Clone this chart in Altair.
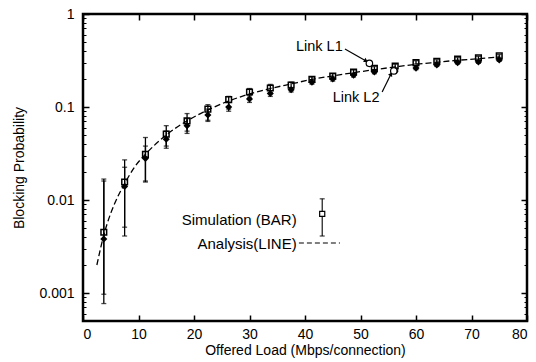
import altair as alt
import pandas as pd

# ---- data ----
load = [3.75, 7.5, 11.25, 15, 18.75, 22.5, 26.25, 30, 33.75, 37.5,
        41.25, 45, 48.75, 52.5, 56.25, 60, 63.75, 67.5, 71.25, 75]
sim_l1 = [0.0045, 0.0156, 0.031, 0.051, 0.071, 0.095, 0.12, 0.145, 0.16, 0.172,
          0.198, 0.215, 0.238, 0.26, 0.276, 0.3, 0.31, 0.328, 0.337, 0.354]
sim_l2 = [0.0038, 0.014, 0.028, 0.045, 0.063, 0.082, 0.1, 0.122, 0.14, 0.153,
          0.185, 0.2, 0.22, 0.238, 0.244, 0.262, 0.283, 0.3, 0.305, 0.32]
l1_lo = [0.00077, 0.0041, 0.0156, 0.036, 0.052, 0.07, 0.095, 0.125, 0.142, 0.158,
         0.185, 0.2, 0.225, 0.25, 0.265, 0.29, 0.3, 0.318, 0.326, 0.342]
l1_hi = [0.0168, 0.027, 0.047, 0.063, 0.085, 0.106, 0.13, 0.158, 0.175, 0.185,
         0.21, 0.228, 0.25, 0.272, 0.288, 0.315, 0.322, 0.34, 0.35, 0.366]
l2_lo = [0.00097, 0.0051, 0.016, 0.038, 0.055, 0.072, 0.09, 0.112, 0.13, 0.145,
         0.176, 0.19, 0.21, 0.228, 0.235, 0.252, 0.273, 0.29, 0.295, 0.31]
l2_hi = [0.016, 0.0225, 0.038, 0.055, 0.075, 0.095, 0.112, 0.132, 0.15, 0.162,
         0.195, 0.21, 0.23, 0.248, 0.254, 0.272, 0.293, 0.31, 0.315, 0.33]

ana_x = [2.5, 3.75, 5, 6.25, 7.5, 9.375, 11.25, 15, 18.75, 22.5, 26.25, 30, 33.75,
         37.5, 41.25, 45, 48.75, 52.5, 56.25, 60, 63.75, 67.5, 71.25, 75]
ana_y = [0.002, 0.0042, 0.0072, 0.0108, 0.015, 0.023, 0.031, 0.05, 0.071, 0.093,
         0.116, 0.138, 0.158, 0.177, 0.198, 0.216, 0.234, 0.252, 0.27, 0.288,
         0.303, 0.318, 0.33, 0.345]

x_ticks = [0, 10, 20, 30, 40, 50, 60, 70, 80]
y_major = [0.001, 0.01, 0.1, 1]
y_minor = [0.0005, 0.0006, 0.0007, 0.0008, 0.0009,
           0.002, 0.003, 0.004, 0.005, 0.006, 0.007, 0.008, 0.009,
           0.02, 0.03, 0.04, 0.05, 0.06, 0.07, 0.08, 0.09,
           0.2, 0.3, 0.4, 0.5, 0.6, 0.7, 0.8, 0.9]

# annotations (data coordinates)
ann_text = ["Link L1", "Link L2"]
ann_tx = [46.8, 49.2]
ann_ty = [0.44, 0.125]
arrow_x1 = [47.2, 53.9]
arrow_y1 = [0.42, 0.145]
arrow_x2 = [51.0, 55.5]
arrow_y2 = [0.313, 0.226]
arrow_angle = [120, 27]
circ_x = [51.6, 56.0]
circ_y = [0.295, 0.244]

legend_text = ["Simulation (BAR)", "Analysis(LINE)"]
legend_tx = [38.5, 38.5]
legend_ty = [0.0061, 0.00336]
leg_bar_x = [43.1]
leg_bar_y = [0.0071]
leg_bar_lo = [0.0041]
leg_bar_hi = [0.0103]
leg_line_x = [38.9, 46.3]
leg_line_y = [0.00345, 0.00345]

FONT = "Liberation Sans"
XD = [0, 80]
YD = [0.0005, 1]

sim = pd.DataFrame({"load": load, "l1": sim_l1, "l2": sim_l2,
                    "l1lo": l1_lo, "l1hi": l1_hi, "l2lo": l2_lo, "l2hi": l2_hi})
ana = pd.DataFrame({"x": ana_x, "y": ana_y})


def xs(field, axis=None):
    return alt.X(field, type="quantitative", scale=alt.Scale(domain=XD, nice=False, zero=False),
                 axis=axis)


def ys(field, axis=None):
    return alt.Y(field, type="quantitative", scale=alt.Scale(type="log", domain=YD, nice=False),
                 axis=axis)


ax_bottom = alt.Axis(values=x_ticks, orient="bottom", offset=-6, tickSize=6, domain=False,
                     grid=False, labelPadding=6, labelFontSize=14, labelFont=FONT,
                     labelColor="black", tickColor="black", tickWidth=1.5,
                     title="Offered Load (Mbps/connection)",
                     titleFont=FONT, titleFontSize=14, titleFontWeight="normal",
                     titleColor="black", titlePadding=2)
ax_top = alt.Axis(values=x_ticks, orient="top", offset=-6, tickSize=6, domain=False,
                  grid=False, labels=False, tickColor="black", tickWidth=1.5, title=None)
ax_left = alt.Axis(values=y_major, orient="left", offset=-6, tickSize=6, domain=False,
                   grid=False, format="~g", labelPadding=9, labelFontSize=14, labelFont=FONT,
                   labelColor="black", tickColor="black", tickWidth=1.5,
                   title="Blocking Probability",
                   titleFont=FONT, titleFontSize=14, titleFontWeight="normal",
                   titleColor="black", titlePadding=12)
ax_left_minor = alt.Axis(values=y_minor, orient="left", offset=-3, tickSize=3, domain=False,
                         grid=False, labels=False, tickColor="black", title=None)
ax_right = alt.Axis(values=y_major, orient="right", offset=-6, tickSize=6, domain=False,
                    grid=False, labels=False, tickColor="black", tickWidth=1.5, title=None)
ax_right_minor = alt.Axis(values=y_minor, orient="right", offset=-3, tickSize=3, domain=False,
                          grid=False, labels=False, tickColor="black", title=None)

base = alt.Chart(sim)

# error bars
err1 = base.mark_rule(color="black", strokeWidth=1.3).encode(
    x=xs("load", ax_bottom), y=ys("l1lo", ax_left), y2="l1hi")
err2 = base.mark_rule(color="black", strokeWidth=1.3).encode(
    x=xs("load", ax_top), y=ys("l2lo", ax_left_minor), y2="l2hi")
cap_common = dict(color="black", orient="horizontal", size=5, thickness=1.3)
cap1 = base.mark_tick(**cap_common).encode(x=xs("load"), y=ys("l1lo", ax_right))
cap2 = base.mark_tick(**cap_common).encode(x=xs("load"), y=ys("l1hi", ax_right_minor))
cap3 = base.mark_tick(**cap_common).encode(x=xs("load"), y=ys("l2lo"))
cap4 = base.mark_tick(**cap_common).encode(x=xs("load"), y=ys("l2hi"))

pts2 = base.mark_point(shape="diamond", filled=True, color="black", size=50, opacity=1).encode(
    x=xs("load"), y=ys("l2"))
pts1 = base.mark_point(shape="square", filled=False, color="black", size=32, strokeWidth=1.5,
                       opacity=1).encode(x=xs("load"), y=ys("l1"))

line = alt.Chart(ana).mark_line(color="black", strokeWidth=1.3, strokeDash=[6, 3],
                                interpolate="monotone").encode(x=xs("x"), y=ys("y"))

# annotations
ann = pd.DataFrame({"t": ann_text, "x": ann_tx, "y": ann_ty})
ann_l1 = alt.Chart(ann.iloc[[0]]).mark_text(font=FONT, fontSize=14.5, align="right",
                                             baseline="middle", color="black").encode(
    x=xs("x"), y=ys("y"), text="t")
ann_l2 = alt.Chart(ann.iloc[[1]]).mark_text(font=FONT, fontSize=14.5, align="center",
                                             baseline="middle", color="black").encode(
    x=xs("x"), y=ys("y"), text="t")
arr = pd.DataFrame({"x1": arrow_x1, "y1": arrow_y1, "x2": arrow_x2, "y2": arrow_y2,
                    "a": arrow_angle})
arrows = alt.Chart(arr).mark_rule(color="black", strokeWidth=1.2).encode(
    x=xs("x1"), y=ys("y1"), x2="x2", y2="y2")
heads = alt.Chart(arr).mark_point(shape="triangle-up", filled=True, color="black", size=22,
                                  opacity=1).encode(
    x=xs("x2"), y=ys("y2"), angle=alt.Angle("a:Q", scale=None))
circ = pd.DataFrame({"x": circ_x, "y": circ_y})
circles = alt.Chart(circ).mark_point(shape="circle", filled=True, fill="white", stroke="black",
                                     strokeWidth=1.2, size=42, opacity=1).encode(
    x=xs("x"), y=ys("y"))

# legend (in-plot)
leg = pd.DataFrame({"t": legend_text, "x": legend_tx, "y": legend_ty})
leg_text = alt.Chart(leg).mark_text(font=FONT, fontSize=15, align="right", baseline="middle",
                                    color="black").encode(x=xs("x"), y=ys("y"), text="t")
lb = pd.DataFrame({"x": leg_bar_x, "y": leg_bar_y, "lo": leg_bar_lo, "hi": leg_bar_hi})
leg_bar = alt.Chart(lb).mark_rule(color="black", strokeWidth=1.1).encode(
    x=xs("x"), y=ys("lo"), y2="hi")
leg_cap1 = alt.Chart(lb).mark_tick(**cap_common).encode(x=xs("x"), y=ys("lo"))
leg_cap2 = alt.Chart(lb).mark_tick(**cap_common).encode(x=xs("x"), y=ys("hi"))
leg_sq = alt.Chart(lb).mark_point(shape="square", filled=True, fill="white", stroke="black",
                                  strokeWidth=1.2, size=26, opacity=1).encode(x=xs("x"), y=ys("y"))
ll = pd.DataFrame({"x": leg_line_x, "y": leg_line_y})
leg_line = alt.Chart(ll).mark_line(color="black", strokeWidth=1.2, strokeDash=[5, 3]).encode(
    x=xs("x"), y=ys("y"))

chart = alt.layer(
    err1, err2, cap1, cap2, cap3, cap4, line, pts2, pts1,
    arrows, heads, circles, ann_l1, ann_l2,
    leg_text, leg_bar, leg_cap1, leg_cap2, leg_sq, leg_line,
).resolve_axis(x="independent", y="independent").properties(
    width=444, height=307,
    autosize=alt.AutoSizeParams(type="none"),
    padding={"left": 83, "top": 14, "right": 9, "bottom": 41},
    background="white",
).configure_view(stroke="black", strokeWidth=2.5)

chart.save("out.html", embed_options={"renderer": "svg", "actions": False})
